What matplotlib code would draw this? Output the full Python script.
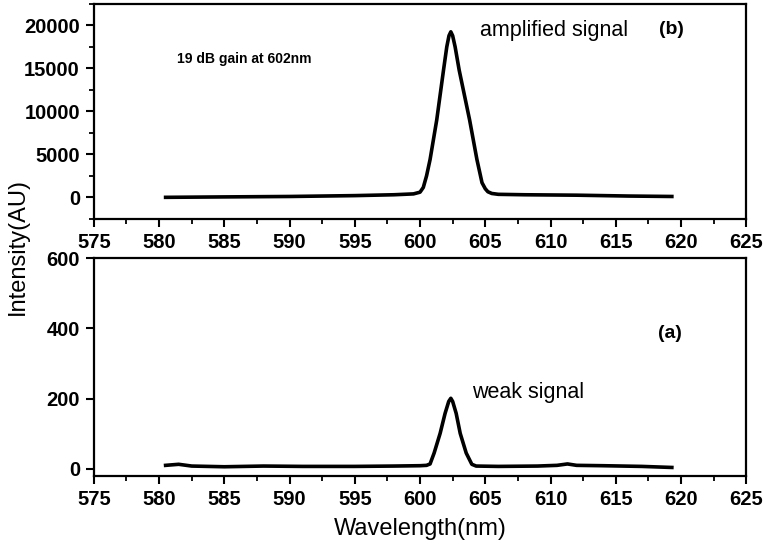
import matplotlib.pyplot as plt
from matplotlib.ticker import MultipleLocator

plt.rcParams['font.family'] = ['Liberation Sans', 'DejaVu Sans']

# (b) amplified signal
wl_amp = [580.5, 585.0, 590.0, 595.0, 598.0, 599.5, 600.0, 600.25, 600.5,
          600.77, 601.28, 601.8, 602.05, 602.22, 602.36, 602.5, 602.69,
          603.0, 603.8, 604.36, 604.75, 605.0, 605.2, 605.5, 606.0, 608.0,
          612.0, 616.0, 619.3]
int_amp = [0, 50, 100, 200, 300, 400, 600, 1150, 2500,
           4400, 9000, 14800, 17500, 18800, 19250, 18800, 17500,
           14800, 9000, 4400, 1700, 1000, 650, 450, 350, 300,
           250, 150, 100]

# (a) weak signal
wl_weak = [580.5, 581.5, 582.5, 585.0, 588.0, 591.0, 595.0, 598.0, 600.0,
           600.5, 600.77, 601.08, 601.54, 601.92, 602.2, 602.36, 602.5,
           602.77, 603.08, 603.54, 603.97, 604.3, 606.0, 609.0, 610.5,
           611.3, 612.0, 614.0, 617.0, 619.3]
int_weak = [10, 13, 8, 6, 8, 7, 7, 8, 9,
            10, 14, 45, 101, 158, 192, 201, 192,
            158, 101, 45, 13, 8, 7, 8, 10,
            14, 10, 9, 7, 4]

fig = plt.figure(figsize=(7.63, 5.54), dpi=100)
ax_b = fig.add_axes([0.123, 0.605, 0.855, 0.388])
ax_a = fig.add_axes([0.123, 0.141, 0.855, 0.393])

for ax in (ax_b, ax_a):
    for s in ax.spines.values():
        s.set_linewidth(1.6)
    ax.set_xlim(575, 625)
    ax.xaxis.set_major_locator(MultipleLocator(5))
    ax.xaxis.set_minor_locator(MultipleLocator(2.5))
    ax.tick_params(which='major', direction='out', length=6, width=1.5, pad=4,
                   labelsize=14.5)
    ax.tick_params(which='minor', direction='out', length=3.5, width=1.3)

ax_b.plot(wl_amp, int_amp, color='black', lw=2.6, solid_joinstyle='round')
ax_b.set_ylim(-2500, 22500)
ax_b.set_yticks([0, 5000, 10000, 15000, 20000])
ax_b.yaxis.set_minor_locator(MultipleLocator(2500))
ax_b.text(0.127, 0.745, '19 dB gain at 602nm', transform=ax_b.transAxes,
          fontsize=10, fontweight='bold', va='center')
ax_b.text(0.592, 0.875, 'amplified signal', transform=ax_b.transAxes,
          fontsize=15.5, va='center')
ax_b.text(0.867, 0.88, '(b)', transform=ax_b.transAxes,
          fontsize=14, fontweight='bold', va='center')

ax_a.plot(wl_weak, int_weak, color='black', lw=2.6, solid_joinstyle='round')
ax_a.set_ylim(-20, 600)
ax_a.set_yticks([0, 200, 400, 600])
ax_a.text(0.58, 0.385, 'weak signal', transform=ax_a.transAxes,
          fontsize=15.5, va='center')
ax_a.text(0.865, 0.656, '(a)', transform=ax_a.transAxes,
          fontsize=14, fontweight='bold', va='center')
ax_a.set_xlabel('Wavelength(nm)', fontsize=17, labelpad=7)

for ax in (ax_b, ax_a):
    for lab in ax.get_xticklabels() + ax.get_yticklabels():
        lab.set_fontweight('bold')

fig.text(0.024, 0.555, 'Intensity(AU)', rotation=90, fontsize=17,
         ha='center', va='center')

fig.savefig('out.png', dpi=100)
